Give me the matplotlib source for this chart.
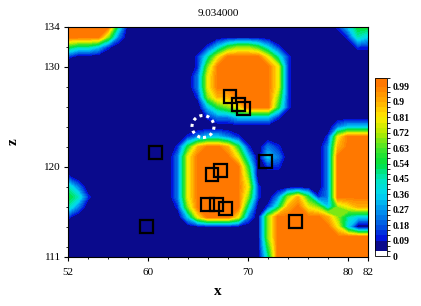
import numpy as np
import matplotlib
matplotlib.use("Agg")
import matplotlib.pyplot as plt
from matplotlib.colors import LinearSegmentedColormap, ListedColormap, BoundaryNorm
from matplotlib.patches import Rectangle, Circle
from matplotlib.cm import ScalarMappable
from matplotlib.ticker import MultipleLocator

title = "9.034000"
x_label = "x"
z_label = "z"

# grid coordinates of the field (1 unit spacing)
x_grid = np.arange(52, 83)
z_grid = np.arange(134, 110, -1)

# field values, digit d -> d/9, rows from z=134 down to z=111
field_rows = [
    "99999 40000 00000 00000 00000 00135 5",  # 134
    "99996 20000 00000 00000 00000 00014 3",  # 133
    "54431 00000 00001 35665 31000 00001 1",  # 132
    "10000 00000 00014 79999 74100 00000 0",  # 131
    "00000 00000 00016 99999 97100 00000 0",  # 130
    "00000 00000 00027 99999 97100 00000 0",  # 129
    "00000 00000 00027 99999 97100 00000 0",  # 128
    "00000 00000 00016 88999 96100 00000 0",  # 127
    "00000 00000 00003 56799 95100 00000 0",  # 126
    "00000 00000 00001 22333 31000 00000 0",  # 125
    "00000 00000 00000 00000 00000 00233 3",  # 124
    "00000 00000 00123 32100 00000 01799 9",  # 123
    "00000 00000 01589 98510 21000 02899 9",  # 122
    "00000 00000 02799 99730 32000 02999 9",  # 121
    "00000 00000 02799 99950 11000 02999 9",  # 120
    "10000 00000 02799 99960 00000 02999 9",  # 119
    "42000 00000 02799 99971 00000 02999 9",  # 118
    "54100 00000 02799 99961 02685 12999 9",  # 117
    "42000 00000 01699 99940 14897 63678 8",  # 116
    "10000 00000 00379 99720 69999 98643 3",  # 115
    "00000 00000 00000 00000 69999 99730 0",  # 114
    "00000 00000 00000 00000 69999 99999 9",  # 113
    "00000 00000 00000 00000 59999 99999 9",  # 112
    "00000 00000 00000 00000 49999 99999 9",  # 111
]

x_ticks = [52, 60, 70, 80, 82]
z_ticks = [111, 120, 130, 134]
cbar_ticks = [0, 0.09, 0.18, 0.27, 0.36, 0.45, 0.54, 0.63, 0.72, 0.81, 0.9, 0.99]
cbar_labels = ["0", "0.09", "0.18", "0.27", "0.36", "0.45", "0.54", "0.63", "0.72", "0.81", "0.9", "0.99"]

square_x = [68.2, 69.07, 69.53, 60.73, 71.8, 67.3, 66.4, 65.95, 66.87, 67.75, 74.7, 59.87]
square_z = [127.1, 126.23, 125.83, 121.47, 120.6, 119.7, 119.3, 116.3, 116.3, 115.85, 114.53, 114.03]

circle_x, circle_z, circle_r = 65.5, 124.05, 1.1

# ---- colours ----
anchor_v = [0.0, 0.075, 0.09, 0.18, 0.27, 0.36, 0.45, 0.54, 0.63, 0.72, 0.81, 0.9, 0.99, 1.0]
anchor_c = [(10, 10, 140), (10, 10, 140), (0, 10, 220), (0, 90, 225), (0, 150, 240), (0, 215, 240),
            (0, 230, 190), (0, 225, 60), (70, 230, 40), (180, 235, 0), (255, 235, 0),
            (255, 175, 0), (255, 128, 0), (255, 120, 0)]
cmap = LinearSegmentedColormap.from_list(
    "tec", [(v, tuple(c / 255 for c in col)) for v, col in zip(anchor_v, anchor_c)])

step = 0.03
inner = np.round(np.arange(step, 0.99 + 1e-9, step), 2)

field = np.array([[int(ch) / 9 for ch in r.replace(" ", "")] for r in field_rows])
X, Z = np.meshgrid(x_grid, z_grid)

field_levels = np.concatenate([[-1.0], inner, [2.0]])
band_centers = [0.0] + list((inner[:-1] + inner[1:]) / 2) + [1.0]
field_colors = [cmap(v) for v in band_centers]

fig = plt.figure(figsize=(4.21, 3.06), dpi=100)
ax = fig.add_axes([68 / 421, 49 / 306, 300 / 421, 230 / 306])
cs = ax.contourf(X, Z, field, levels=field_levels, colors=field_colors)
cs.set_edgecolor("face")
cs.set_linewidth(0.4)

for sx, sz in zip(square_x, square_z):
    ax.add_patch(Rectangle((sx - 0.65, sz - 0.65), 1.3, 1.3, fill=False, ec="black", lw=1.6, zorder=5))
ax.add_patch(Circle((circle_x, circle_z), circle_r, fill=False, ec="white", lw=2.2,
                    linestyle=(0, (1.0, 1.3)), zorder=5))

ax.set_xlim(52, 82)
ax.set_ylim(111, 134)
ax.set_xticks(x_ticks)
ax.set_yticks(z_ticks)
ax.xaxis.set_minor_locator(MultipleLocator(2))
ax.yaxis.set_minor_locator(MultipleLocator(2))
ax.tick_params(which="major", direction="out", length=3, width=0.8, labelsize=8)
ax.tick_params(axis="x", which="major", pad=5)
ax.tick_params(axis="y", which="major", pad=2)
ax.tick_params(which="minor", direction="out", length=1.5, width=0.6)
for lab in ax.get_xticklabels() + ax.get_yticklabels():
    lab.set_fontfamily("Liberation Serif")
ax.set_title(title, fontsize=8, fontfamily="Liberation Serif", pad=8)
ax.set_xlabel(x_label, fontsize=11, fontweight="bold", fontfamily="Liberation Serif", labelpad=6)
ax.set_ylabel(z_label, fontsize=11, fontweight="bold", fontfamily="Liberation Serif", labelpad=18)
for s in ax.spines.values():
    s.set_linewidth(0.8)

# colorbar
cb_bounds = np.concatenate([[0.0], inner, [1.04]])
cb_colors = [(1, 1, 1)] + [cmap(v) for v in list((inner[:-1] + inner[1:]) / 2)] + [cmap(1.0)]
cb_norm = BoundaryNorm(cb_bounds, len(cb_colors))
cax = fig.add_axes([375 / 421, 50 / 306, 12 / 421, 178 / 306])
sm = ScalarMappable(norm=cb_norm, cmap=ListedColormap(cb_colors))
cb = fig.colorbar(sm, cax=cax, ticks=cbar_ticks, spacing="proportional")
cb.ax.set_yticklabels(cbar_labels)
cb.ax.tick_params(labelsize=7, length=2, width=0.6, pad=2)
for lab in cb.ax.get_yticklabels():
    lab.set_fontfamily("Liberation Serif")
    lab.set_fontweight("bold")
cb.outline.set_linewidth(0.6)

fig.savefig("out.png", dpi=100)
